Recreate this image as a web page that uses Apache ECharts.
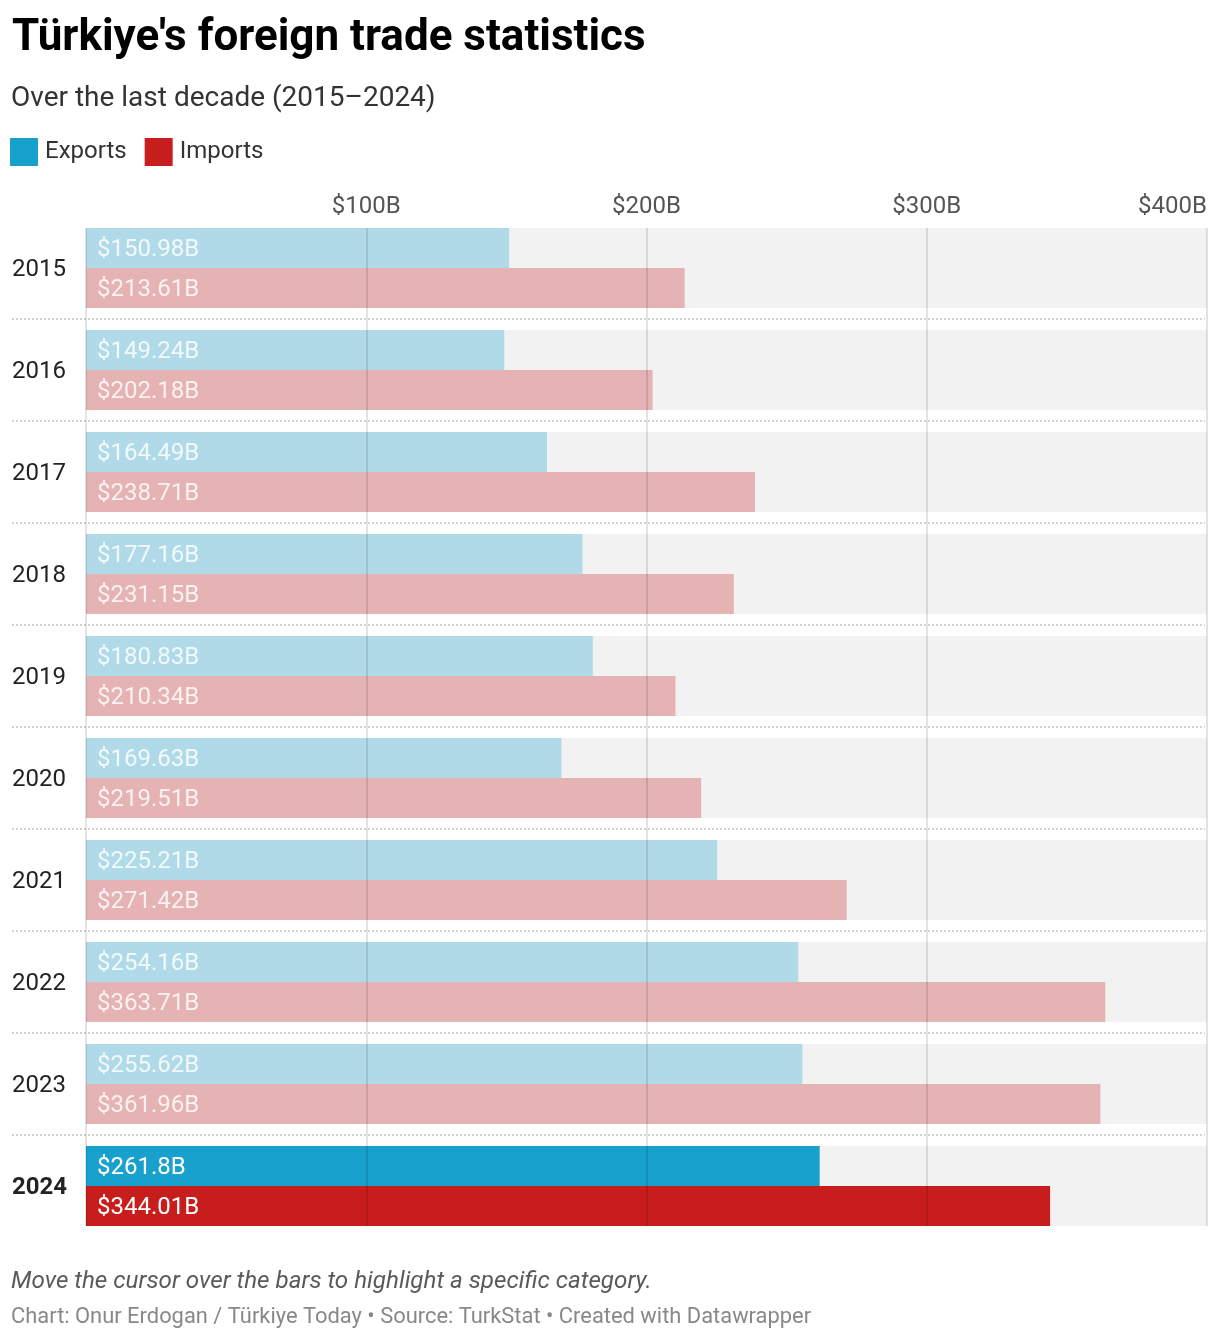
<!DOCTYPE html>
<html><head><meta charset="utf-8">
<script src="https://cdn.jsdelivr.net/npm/echarts@6/dist/echarts.min.js"></script>
<style>html,body{margin:0;padding:0;background:#fff}#c{width:1220px;height:1342px}</style>
</head><body><div id="c"></div>
<script>
const years = ['2015','2016','2017','2018','2019','2020','2021','2022','2023','2024'];
const exportsB = [150.98,149.24,164.49,177.16,180.83,169.63,225.21,254.16,255.62,261.8];
const importsB = [213.61,202.18,238.71,231.15,210.34,219.51,271.42,363.71,361.96,344.01];
const xTicks = [0,100,200,300,400];
const highlightYear = '2024';

const EXP = '#18a1cd', EXP_L = '#b1dae8', IMP = '#c71e1d', IMP_L = '#e5b3b3';
const F = 'Roboto, "Noto Sans", sans-serif';

function mk(vals, full, light){
  return vals.map((v,i)=>({value:v, itemStyle:{color: years[i]===highlightYear?full:light},
    label:{color: years[i]===highlightYear?'#ffffff':'rgba(255,255,255,0.82)'}}));
}

const chart = echarts.init(document.getElementById('c'));
chart.setOption({
  animation:false,
  backgroundColor:'#fff',
  textStyle:{fontFamily:F},
  legend:{left:10, top:138, padding:0, itemWidth:28, itemHeight:28, itemGap:18, icon:'rect',
    textStyle:{fontSize:24, color:'#333', fontFamily:F, padding:[0,0,0,2]}, selectedMode:false,
    data:['Exports','Imports']},
  graphic:[
    {type:'text', left:12, top:17, style:{text:"Türkiye's foreign trade statistics", font:'bold 44px '+F, fill:'#000'}},
    {type:'text', left:11, top:85, style:{text:'Over the last decade (2015–2024)', font:'28px '+F, fill:'#333'}},
    {type:'text', left:11, top:1270, style:{text:'Move the cursor over the bars to highlight a specific category.', font:'italic 24.2px '+F, fill:'#5a5a5a'}},
    {type:'text', left:11, top:1307, style:{text:'Chart: Onur Erdogan / Türkiye Today • Source: TurkStat • Created with Datawrapper', font:'21.9px '+F, fill:'#888'}}
  ],
  grid:[
    {left:86, right:13, top:217, bottom:105},
    {left:86, right:13, top:228, bottom:116},
    {left:12, right:15, top:217, bottom:105}
  ],
  xAxis:[
    {gridIndex:0, type:'value', min:0, max:400, show:false},
    {gridIndex:1, type:'value', min:0, max:400, interval:100, position:'top', z:5,
      axisLine:{show:false}, axisTick:{show:false},
      axisLabel:{showMinLabel:false, alignMaxLabel:'right', fontSize:24, color:'#555', margin:9,
        formatter:v=>'$'+v+'B'},
      splitLine:{show:true, lineStyle:{color:'rgba(0,0,0,0.14)', width:1.6}}},
    {gridIndex:2, type:'value', min:0, max:1, show:false}
  ],
  yAxis:[
    {gridIndex:0, type:'category', data:years, inverse:true,
      axisLine:{show:false}, axisTick:{show:false}, splitLine:{show:false},
      axisLabel:{align:'left', margin:74, fontSize:24, color:'#222', padding:[4,0,0,0],
        formatter:v=> v===highlightYear ? '{b|'+v+'}' : v,
        rich:{b:{fontWeight:'bold', fontSize:24, color:'#222'}}}},
    {gridIndex:1, type:'value', min:0, max:1, show:false},
    {gridIndex:2, type:'category', data:years, inverse:true,
      axisLine:{show:false}, axisTick:{show:false}, axisLabel:{show:false},
      splitLine:{show:true, showMinLine:false, showMaxLine:false,
        lineStyle:{color:'#d3d3d3', width:2, type:[2,2]}}}
  ],
  series:[
    {name:'Exports', type:'bar', xAxisIndex:0, yAxisIndex:0, barWidth:40, barGap:'0%',
      itemStyle:{color:EXP}, showBackground:true, backgroundStyle:{color:'#f2f2f2'},
      label:{show:true, position:'insideLeft', distance:11, offset:[0,2], fontSize:24, fontFamily:F,
        formatter:p=>'$'+p.value+'B'},
      emphasis:{disabled:true}, data:mk(exportsB, EXP, EXP_L)},
    {name:'Imports', type:'bar', xAxisIndex:0, yAxisIndex:0, barWidth:40, barGap:'0%',
      itemStyle:{color:IMP}, showBackground:true, backgroundStyle:{color:'#f2f2f2'},
      label:{show:true, position:'insideLeft', distance:11, offset:[0,2], fontSize:24, fontFamily:F,
        formatter:p=>'$'+p.value+'B'},
      emphasis:{disabled:true}, data:mk(importsB, IMP, IMP_L)}
  ]
});
</script></body></html>
